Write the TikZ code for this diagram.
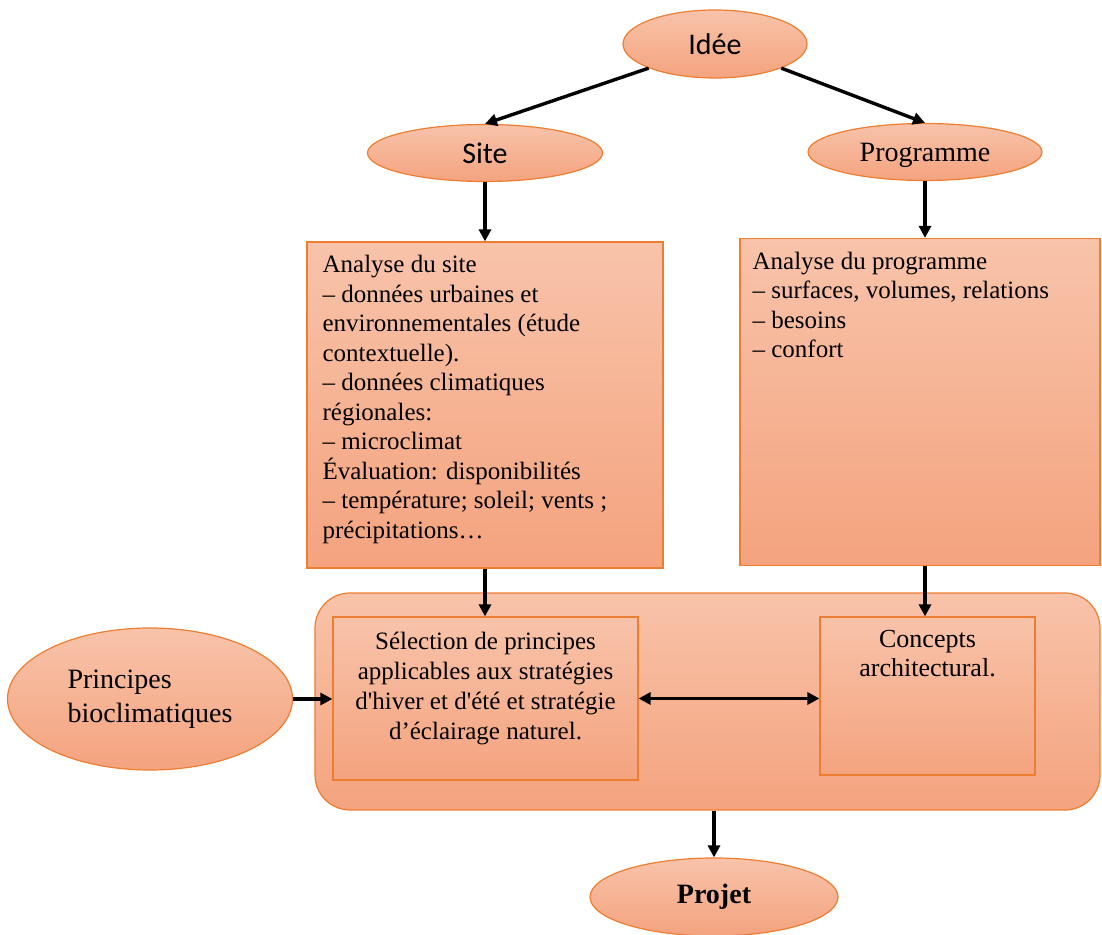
\documentclass[tikz,border=0pt]{standalone}
\usepackage{fontspec}
\setmainfont{Liberation Serif}
\newfontfamily\serifdroit{Liberation Serif}[Ligatures=Required]
\newfontfamily\calibri{Carlito}
\usetikzlibrary{arrows.meta, shapes.geometric}
\definecolor{bordorange}{RGB}{237,125,49}
\definecolor{saumonclair}{RGB}{248,195,170}
\definecolor{saumonfonce}{RGB}{244,163,126}

\begin{document}
\begin{tikzpicture}[x=1pt, y=1pt,
    oval/.style={ellipse, draw=bordorange, line width=1.2pt, top color=saumonclair, bottom color=saumonfonce, inner sep=0pt},
    cadre/.style={rectangle, draw=bordorange, line width=1.2pt, top color=saumonclair, bottom color=saumonfonce, inner sep=0pt},
    fleche/.style={-{Triangle[length=12pt, width=12pt]}, line width=3.4pt},
    doublefleche/.style={{Triangle[length=12pt, width=12pt]}-{Triangle[length=12pt, width=12pt]}, line width=3.4pt},
    texte/.style={align=left, inner sep=0pt, font=\fontsize{25}{29.5}\selectfont}]
    \useasboundingbox (0,0) rectangle (1102,934);
    % Idee, site et programme
    \node[oval, minimum width=184pt, minimum height=68pt, font=\calibri\fontsize{30}{36}\selectfont] (idee) at (715,890) {Idée};
    \node[oval, minimum width=235pt, minimum height=57pt, font=\calibri\fontsize{30}{36}\selectfont] (site) at (485,781) {Site};
    \node[oval, minimum width=234pt, minimum height=57pt, text depth=0pt, font=\fontsize{28}{34}\selectfont] (programme) at (925,782) {Programme};
    % analyses
    \node[cadre, minimum width=356pt, minimum height=326pt] (asite) at (485,529) {};
    \node[texte, anchor=north west] (tsite) at ([shift={(16,-14)}]asite.north west)
        {Analyse du site\\
         -- données urbaines et\\
         environnementales (étude\\
         contextuelle).\\
         -- données climatiques\\
         régionales:\\
         -- microclimat\\
         Évaluation: disponibilités\\
         -- température; soleil; vents ;\\
         précipitations\dots};
    \node[cadre, minimum width=360pt, minimum height=327pt] (aprog) at (920,532) {};
    \node[texte, anchor=north west] (tprog) at ([shift={(13,-14)}]aprog.north west)
        {Analyse du programme\\
         -- surfaces, volumes, relations\\
         -- besoins\\
         -- confort};
    % cadre de synthese
    \node[cadre, rounded corners=35pt, minimum width=785pt, minimum height=217pt] (synthese) at (707.5,232.5) {};
    \node[cadre, minimum width=305pt, minimum height=163pt] (selection) at (485.5,235.5) {};
    \node[texte, align=center, font=\serifdroit\fontsize{25}{30}\selectfont, anchor=north] (tsel) at ([yshift=-16pt]selection.north)
        {Sélection de principes\\
         applicables aux stratégies\\
         d'hiver et d'été et stratégie\\
         d’éclairage naturel.};
    \node[cadre, minimum width=215pt, minimum height=158pt] (concepts) at (927.5,238) {};
    \node[texte, align=center, font=\fontsize{26}{29}\selectfont, anchor=north] (tconc) at ([yshift=-14pt]concepts.north)
        {Concepts\\ architectural.};
    \node[oval, minimum width=285pt, minimum height=142pt, align=left, font=\fontsize{28}{34}\selectfont] (principes) at (150,235)
        {Principes\\ bioclimatiques};
    \node[oval, minimum width=248pt, minimum height=78pt, font=\bfseries\fontsize{28}{34}\selectfont] (projet) at (714,37) {Projet};
    % fleches
    \draw[fleche] (idee.200) -- (site.north);
    \draw[fleche] (idee.340) -- (programme.north);
    \draw[fleche] (site.south) -- (asite.north);
    \draw[fleche] (programme.south) -- (programme.south |- aprog.north);
    \draw[fleche] (asite.south) -- (asite.south |- selection.north);
    \draw[fleche] (programme.south |- aprog.south) -- (programme.south |- concepts.north);
    \draw[fleche] (principes.east) -- (principes.east -| selection.west);
    \draw[doublefleche] (selection.east) -- (selection.east -| concepts.west);
    \draw[fleche] (projet.north |- synthese.south) -- (projet.north);
\end{tikzpicture}
\end{document}
